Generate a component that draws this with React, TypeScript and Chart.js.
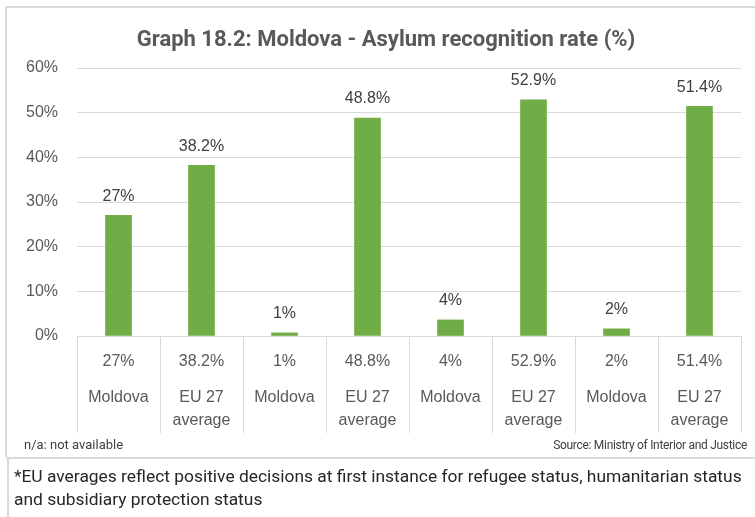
import React, { useEffect, useRef } from "react";
import { Chart, registerables } from "chart.js";

Chart.register(...registerables);

const categories: string[][] = [
  ["Moldova"],
  ["EU 27", "average"],
  ["Moldova"],
  ["EU 27", "average"],
  ["Moldova"],
  ["EU 27", "average"],
  ["Moldova"],
  ["EU 27", "average"],
];
const values: number[] = [27, 38.2, 0.7, 48.8, 3.6, 52.9, 1.6, 51.4];
const valueLabels: string[] = ["27%", "38.2%", "1%", "48.8%", "4%", "52.9%", "2%", "51.4%"];
const yTicks: number[] = [0, 10, 20, 30, 40, 50, 60];

const titleText = "Graph 18.2: Moldova - Asylum recognition rate (%)";
const noteLeft = "n/a: not available";
const noteRight = "Source: Ministry of Interior and Justice";
const footnoteLines: string[] = [
  "*EU averages reflect positive decisions at first instance for refugee status, humanitarian status",
  "and subsidiary protection status",
];

const W = 755;
const H = 517;
const LABEL_FONT = "16px 'Liberation Sans'";

const decorPlugin = {
  id: "decor",
  afterDraw(chart: any) {
    const ctx = chart.ctx as CanvasRenderingContext2D;
    const area = chart.chartArea;
    const xs = chart.scales.x;
    ctx.save();

    // frame
    ctx.strokeStyle = "#d9d9d9";
    ctx.lineWidth = 2;
    ctx.beginPath();
    ctx.moveTo(6, 7);
    ctx.lineTo(W, 7);
    ctx.moveTo(6, 7);
    ctx.lineTo(6, 457);
    ctx.moveTo(6, 458);
    ctx.lineTo(W, 458);
    ctx.moveTo(8, 458);
    ctx.lineTo(8, H);
    ctx.stroke();

    // title
    ctx.fillStyle = "#595959";
    ctx.font = "bold 22px Roboto";
    ctx.textAlign = "center";
    ctx.textBaseline = "middle";
    ctx.fillText(titleText, 386, 40);

    // column dividers in axis table
    const n = categories.length;
    const colW = (area.right - area.left) / n;
    ctx.strokeStyle = "#d9d9d9";
    ctx.lineWidth = 1;
    ctx.beginPath();
    for (let i = 0; i <= n; i++) {
      const x = Math.round(area.left + i * colW) + 0.5;
      ctx.moveTo(x, area.bottom);
      ctx.lineTo(x, 433);
    }
    ctx.moveTo(area.left, area.bottom + 0.5);
    ctx.lineTo(area.right, area.bottom + 0.5);
    ctx.stroke();

    // axis labels
    ctx.fillStyle = "#595959";
    ctx.font = LABEL_FONT;
    ctx.textAlign = "center";
    ctx.textBaseline = "middle";
    for (let i = 0; i < n; i++) {
      const x = xs.getPixelForValue(i);
      ctx.fillText(valueLabels[i], x, 362);
      const lines = categories[i];
      lines.forEach((l, j) => ctx.fillText(l, x, 398 + j * 23));
    }

    // data labels
    ctx.fillStyle = "#404040";
    const meta = chart.getDatasetMeta(0);
    meta.data.forEach((bar: any, i: number) => {
      ctx.fillText(valueLabels[i], bar.x, bar.y - 19);
    });

    // notes
    ctx.fillStyle = "#404040";
    ctx.font = "13px Roboto";
    ctx.textAlign = "left";
    ctx.fillText(noteLeft, 24, 446);
    ctx.font = "12px Roboto";
    (ctx as any).letterSpacing = "-0.3px";
    ctx.textAlign = "right";
    ctx.fillText(noteRight, 747, 446);
    (ctx as any).letterSpacing = "0px";

    // footnote
    ctx.fillStyle = "#262626";
    ctx.font = "17.4px Roboto";
    ctx.textAlign = "left";
    footnoteLines.forEach((l, j) => ctx.fillText(l, 14, 478 + j * 23));

    ctx.restore();
  },
};

export default function App() {
  const ref = useRef<HTMLCanvasElement>(null);
  useEffect(() => {
    document.body.style.margin = "0";
    const canvas = ref.current!;
    const chart = new Chart(canvas, {
      type: "bar",
      data: {
        labels: categories.map((c) => c.join(" ")),
        datasets: [
          {
            data: values,
            backgroundColor: "#70AD47",
            barThickness: 26,
          },
        ],
      },
      options: {
        animation: false,
        responsive: false,
        layout: { padding: { left: 0, right: 14, top: 68, bottom: 0 } },
        plugins: { legend: { display: false }, tooltip: { enabled: false } },
        scales: {
          x: {
            grid: { display: false },
            border: { display: false },
            ticks: { display: false },
            afterFit: (s: any) => {
              s.height = 181;
            },
          },
          y: {
            min: 0,
            max: 60,
            afterBuildTicks: (s: any) => {
              s.ticks = yTicks.map((v) => ({ value: v }));
            },
            afterFit: (s: any) => {
              s.width = 77;
            },
            grid: { color: "#d9d9d9", lineWidth: 1, drawTicks: false },
            border: { display: false },
            ticks: {
              padding: 19,
              color: "#595959",
              font: { family: "'Liberation Sans'", size: 16 },
              callback: (v: any) => v + "%",
            },
          },
        },
      },
      plugins: [decorPlugin],
    });
    return () => chart.destroy();
  }, []);
  return <canvas ref={ref} width={W} height={H} style={{ display: "block" }} />;
}
